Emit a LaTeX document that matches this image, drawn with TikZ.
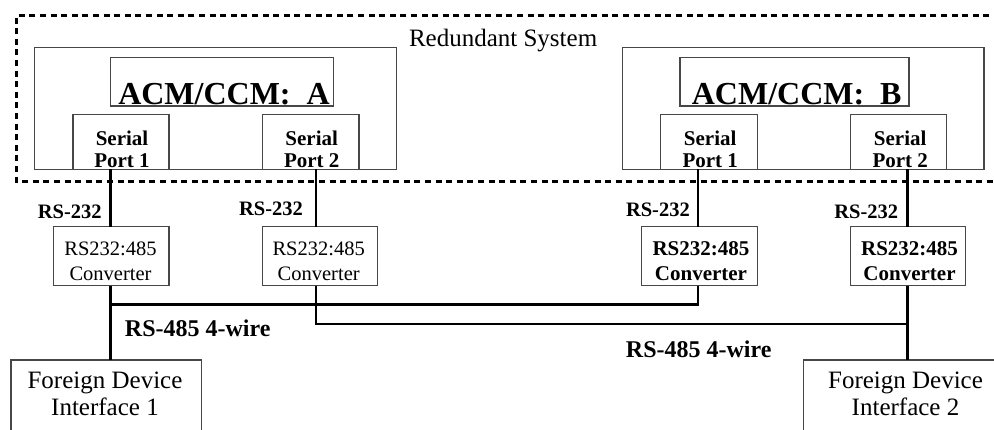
\documentclass[tikz,border=0pt]{standalone}
\usepackage{fontspec}
\setmainfont{Liberation Serif}
\begin{document}
\begin{tikzpicture}[x=1pt,y=-1pt,
  box/.style={draw=black!72, line width=1.2pt, fill=white, inner sep=0pt, outer sep=0pt, rectangle},
  wire/.style={line width=2.8pt, black},
  sysline/.style={line width=3pt, black, dash pattern=on 6pt off 4.6pt},
  lbl/.style={inner sep=0pt, outer sep=0pt, anchor=base, align=center},
  fsys/.style={font=\fontsize{25}{27}\selectfont},
  facm/.style={font=\bfseries\fontsize{32}{34}\selectfont},
  fport/.style={font=\bfseries\fontsize{21}{22}\selectfont},
  fconv/.style={font=\fontsize{20.5}{25}\selectfont},
  fconvb/.style={font=\bfseries\fontsize{21}{25}\selectfont},
  frs/.style={font=\bfseries\fontsize{20.5}{22}\selectfont},
  fwire/.style={font=\bfseries\fontsize{24}{26}\selectfont},
  ffd/.style={font=\fontsize{25}{27}\selectfont},
]
\useasboundingbox (0,0) rectangle (994,429);

% redundant system boundary (open on the right, runs off the page)
\coordinate (sysTR) at (1000,15);
\coordinate (sysTL) at (16.7,15);
\coordinate (sysBL) at (16.7,181.7);
\coordinate (sysBR) at (1000,181.7);
\draw[sysline] (sysTR) -- (sysTL) -- (sysBL) -- (sysBR);
\node[lbl, fsys, anchor=base west] (sysname) at (409,46.7) {Redundant System};

% module A
\node[box, minimum width=362.4pt, minimum height=121.6pt] (modA) at (215.5,108.5) {};
\node[box, minimum width=222.6pt, minimum height=48.7pt] (acmA) at (222,81.65) {};
\node[lbl, facm] (acmAt) at (224,104.5) {ACM/CCM:\ \ A};
\node[box, minimum width=96pt, minimum height=55pt] (sp1A) at (121,141.8) {};
\node[box, minimum width=96.7pt, minimum height=55pt] (sp2A) at (310.65,141.8) {};
\node[lbl, fport] (sp1At) at (122,167) {Serial\\Port 1};
\node[lbl, fport] (sp2At) at (311.7,167) {Serial\\Port 2};

% module B
\node[box, minimum width=361.7pt, minimum height=121.6pt] (modB) at (803.15,108.5) {};
\node[box, minimum width=229pt, minimum height=48.7pt] (acmB) at (794.5,81.65) {};
\node[lbl, facm] (acmBt) at (796.7,104.5) {ACM/CCM:\ \ B};
\node[box, minimum width=96.6pt, minimum height=55pt] (sp1B) at (709,141.8) {};
\node[box, minimum width=95.6pt, minimum height=55pt] (sp2B) at (898.5,141.8) {};
\node[lbl, fport] (sp1Bt) at (710.2,167) {Serial\\Port 1};
\node[lbl, fport] (sp2Bt) at (900.2,167) {Serial\\Port 2};

% converters
\node[box, minimum width=115.7pt, minimum height=59pt] (cv1) at (111.15,256.2) {};
\node[box, minimum width=115.4pt, minimum height=59pt] (cv2) at (320,256.2) {};
\node[box, minimum width=115.6pt, minimum height=59pt] (cv3) at (699.5,256.2) {};
\node[box, minimum width=115pt, minimum height=59pt] (cv4) at (908.2,256.2) {};
\node[lbl, fconv] (cv1t) at (110.5,280) {RS232:485\\Converter};
\node[lbl, fconv] (cv2t) at (318.7,280) {RS232:485\\Converter};
\node[lbl, fconvb] (cv3t) at (701,280) {RS232:485\\Converter};
\node[lbl, fconvb] (cv4t) at (909.5,280) {RS232:485\\Converter};

% foreign devices
\node[box, minimum width=190.7pt, minimum height=90pt] (fd1) at (106.35,405) {};
\node[box, minimum width=192.7pt, minimum height=90pt] (fd2) at (899.65,405) {};
\node[lbl, ffd] (fd1t) at (105,415.5) {Foreign Device\\Interface 1};
\node[lbl, ffd] (fd2t) at (905.5,415.5) {Foreign Device\\Interface 2};

% wire x positions
\coordinate (xA) at (110.7,0);
\coordinate (xB) at (316,0);
\coordinate (xC) at (698,0);
\coordinate (xD) at (907.3,0);
\coordinate (busA) at (0,304.3);
\coordinate (busB) at (0,324);

% RS-232 links
\draw[wire] (sp1A.south -| xA) -- (cv1.north -| xA);
\draw[wire] (sp2A.south -| xB) -- (cv2.north -| xB);
\draw[wire] (sp1B.south -| xC) -- (cv3.north -| xC);
\draw[wire] (sp2B.south -| xD) -- (cv4.north -| xD);

% RS-485 buses
\draw[wire] (cv1.south -| xA) -- (fd1.north -| xA);
\draw[wire] (xA |- busA) -- (xC |- busA) -- (cv3.south -| xC);
\draw[wire] (cv2.south -| xB) -- (xB |- busB) -- (xD |- busB);
\draw[wire] (cv4.south -| xD) -- (fd2.north -| xD);

% labels
\node[lbl, frs] (rs1) at (69.7,218) {RS-232};
\node[lbl, frs] (rs2) at (271,215) {RS-232};
\node[lbl, frs] (rs3) at (657.9,216.5) {RS-232};
\node[lbl, frs] (rs4) at (866.2,218.5) {RS-232};
\node[lbl, fwire] (w1) at (197.7,336.7) {RS-485 4-wire};
\node[lbl, fwire] (w2) at (698.7,357) {RS-485 4-wire};
\end{tikzpicture}
\end{document}
